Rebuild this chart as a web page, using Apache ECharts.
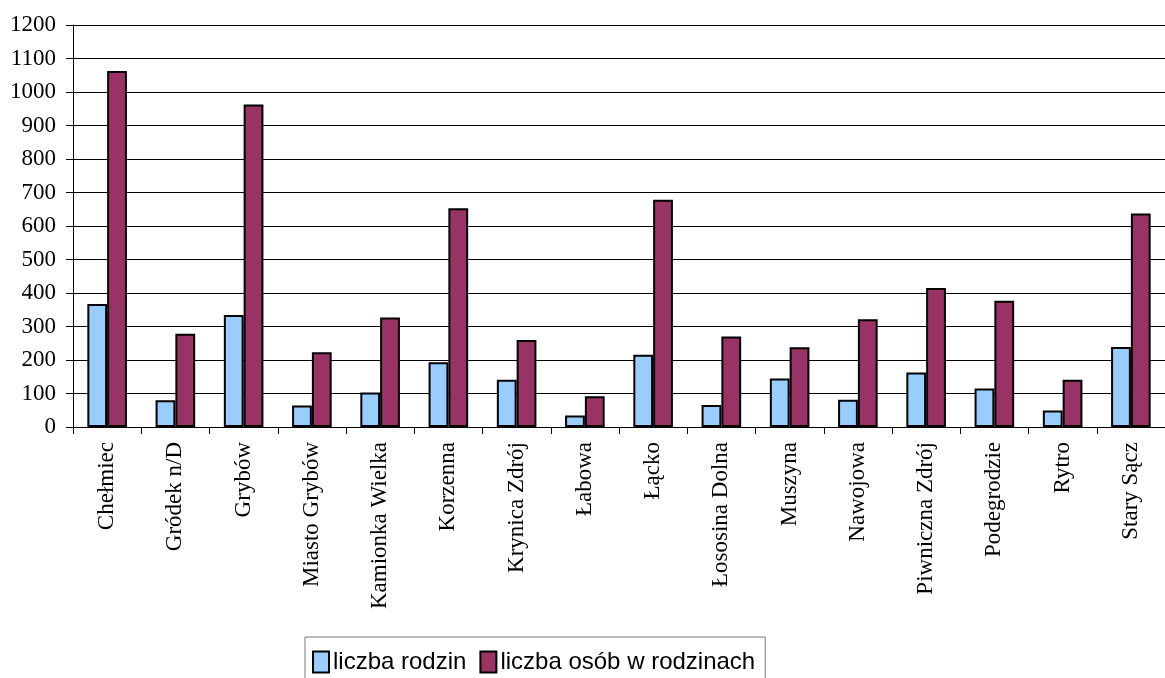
<!DOCTYPE html>
<html>
<head>
<meta charset="utf-8">
<script src="https://cdn.jsdelivr.net/npm/echarts@6/dist/echarts.min.js"></script>
<style>html,body{margin:0;padding:0;background:#fff;}#c{width:1165px;height:678px;}</style>
</head>
<body>
<div id="c"></div>
<script>
const categories = ['Chełmiec','Gródek n/D','Grybów','Miasto Grybów','Kamionka Wielka','Korzenna','Krynica Zdrój','Łabowa','Łącko','Łososina Dolna','Muszyna','Nawojowa','Piwniczna Zdrój','Podegrodzie','Rytro','Stary Sącz'];
const liczbaRodzin = [367, 80, 334, 64, 103, 193, 141, 34, 216, 66, 145, 81, 163, 115, 49, 239];
const liczbaOsob = [1063, 278, 963, 223, 327, 653, 260, 92, 678, 270, 238, 322, 415, 377, 141, 637];
const seriesNames = ['liczba rodzin', 'liczba osób w rodzinach'];

const chart = echarts.init(document.getElementById('c'), null, {renderer: 'canvas'});
chart.setOption({
  animation: false,
  backgroundColor: '#fff',
  grid: {left: 73, top: 25, bottom: 251, right: -10, containLabel: false},
  legend: {
    left: 305, top: 637,
    padding: [13, 10, 6, 7],
    borderColor: '#777', borderWidth: 1, backgroundColor: '#fff',
    itemWidth: 16, itemHeight: 21, itemGap: 13,
    icon: 'rect',
    textStyle: {fontFamily: 'Liberation Sans', fontSize: 24, color: '#000', padding: [0,0,0,-1]},
    data: seriesNames
  },
  xAxis: {
    type: 'category',
    data: categories,
    axisLine: {lineStyle: {color: '#000', width: 1}},
    axisTick: {show: true, length: 7, inside: false, lineStyle: {color: '#000'}},
    axisLabel: {rotate: 90, margin: 15, interval: 0, fontFamily: 'Liberation Serif', fontSize: 23, color: '#000'}
  },
  yAxis: {
    type: 'value',
    min: 0, max: 1200, interval: 100,
    axisLine: {show: true, lineStyle: {color: '#000', width: 1}},
    axisTick: {show: true, length: 7, lineStyle: {color: '#000'}},
    axisLabel: {margin: 17, fontFamily: 'Liberation Serif', fontSize: 23, color: '#000', formatter: v => String(v)},
    splitLine: {show: true, lineStyle: {color: '#000', width: 1}}
  },
  series: [
    {name: seriesNames[0], type: 'bar', data: liczbaRodzin, barGap: '0%', barCategoryGap: '42%',
     itemStyle: {color: '#99CCFF', borderColor: '#000', borderWidth: 2}},
    {name: seriesNames[1], type: 'bar', data: liczbaOsob, barGap: '0%', barCategoryGap: '42%',
     itemStyle: {color: '#993366', borderColor: '#000', borderWidth: 2}}
  ]
});
</script>
</body>
</html>
